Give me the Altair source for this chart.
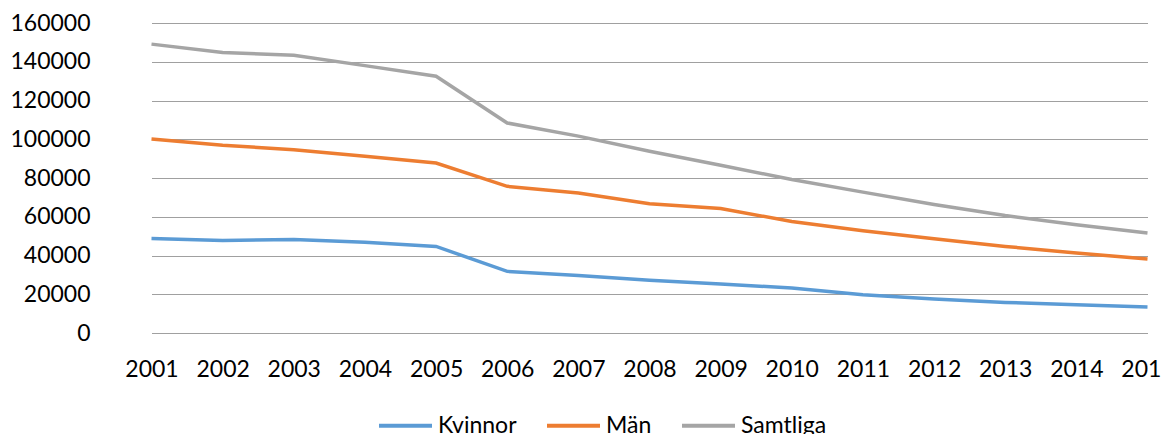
import altair as alt
import pandas as pd

years = [str(y) for y in range(2001, 2016)]
kvinnor = [48800, 47800, 48300, 46800, 44700, 31800, 29700, 27200, 25300, 23200, 19800, 17600, 15800, 14600, 13400]
man = [100100, 96900, 94600, 91200, 87700, 75700, 72300, 66700, 64200, 57600, 52800, 48700, 44700, 41300, 38200]
samtliga = [149100, 144800, 143300, 138000, 132500, 108400, 101600, 93800, 86600, 79200, 72700, 66300, 60600, 55900, 51600]

series = ["Kvinnor", "Män", "Samtliga"]
colors = ["#5B9BD5", "#ED7D31", "#A5A5A5"]
y_ticks = [0, 20000, 40000, 60000, 80000, 100000, 120000, 140000, 160000]

rows = []
for name, vals in zip(series, [kvinnor, man, samtliga]):
    for yr, v in zip(years, vals):
        rows.append({"year": yr, "value": v, "series": name})
df = pd.DataFrame(rows)

FONT = "Lato"

chart = alt.Chart(df).mark_line(strokeWidth=3.5).encode(
    x=alt.X("year:O", sort=years,
            scale=alt.Scale(type="point", padding=0, range=[35.5, 1031.5]),
            axis=alt.Axis(title=None, labelAngle=0, ticks=False, domain=False,
                          labelPadding=25, labelFontSize=23, labelColor="#000000",
                          labelFont=FONT, grid=False)),
    y=alt.Y("value:Q",
            scale=alt.Scale(domain=[0, 160000], nice=False),
            axis=alt.Axis(title=None, values=y_ticks, format="d", grid=True,
                          gridColor="#a0a0a0", gridWidth=1, ticks=False, domain=False,
                          labelPadding=26, labelFontSize=23, labelColor="#000000",
                          labelFont=FONT)),
    color=alt.Color("series:N", sort=series,
                    scale=alt.Scale(domain=series, range=colors),
                    legend=alt.Legend(title=None, orient="none", legendX=261, legendY=374,
                                      direction="horizontal", symbolType="stroke",
                                      symbolSize=2809, symbolStrokeWidth=4,
                                      columnPadding=22, labelOffset=4,
                                      labelFontSize=23, labelFont=FONT,
                                      labelColor="#000000")),
).properties(
    width=1046, height=310,
    autosize=alt.AutoSizeParams(type="none"),
    padding={"left": 108, "top": 15, "right": 0, "bottom": 130},
).configure_view(stroke=None)

chart.save("out.html", embed_options={"renderer": "svg", "actions": False})
